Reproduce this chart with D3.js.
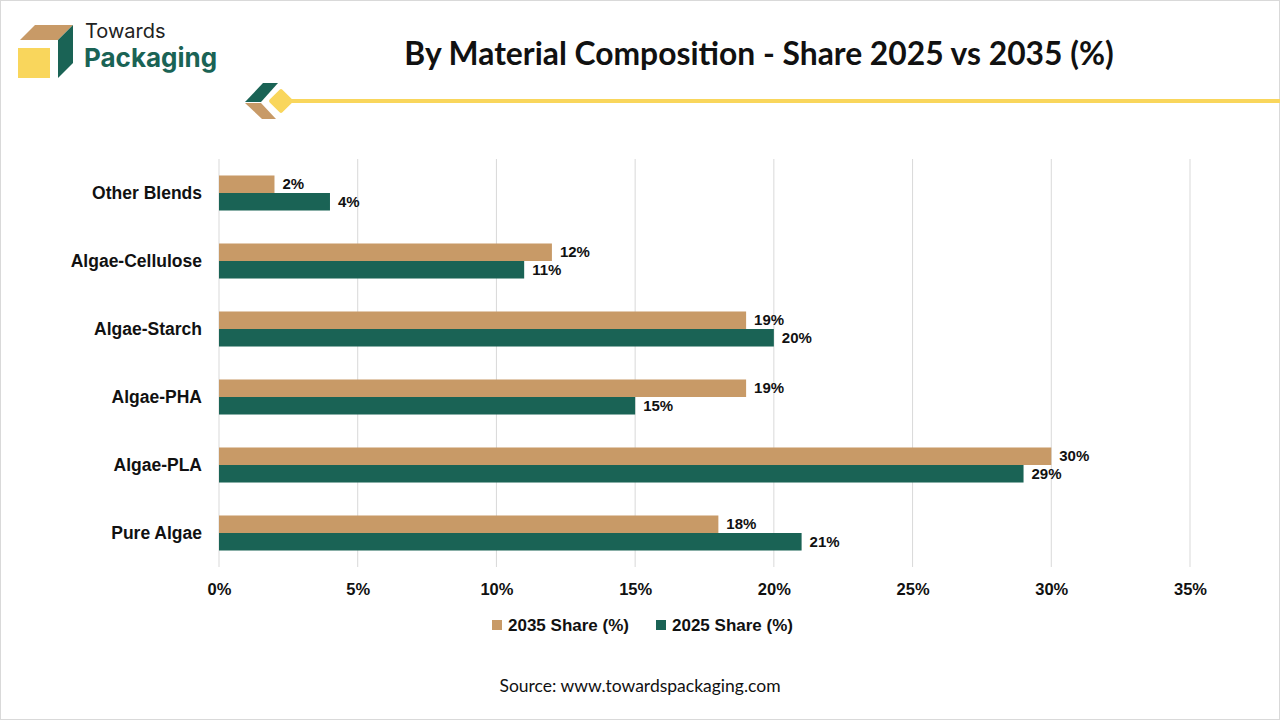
<!DOCTYPE html>
<html>
<head>
<meta charset="utf-8">
<script src="https://cdn.jsdelivr.net/npm/d3@7"></script>
<style>
  body { margin: 0; background: #fff; }
  svg { display: block; }
</style>
</head>
<body>
<svg id="chart" width="1280" height="720"></svg>
<script>
// chart data
var categories = ["Other Blends", "Algae-Cellulose", "Algae-Starch", "Algae-PHA", "Algae-PLA", "Pure Algae"];
var share2035 = [2, 12, 19, 19, 30, 18];
var share2025 = [4, 11, 20, 15, 29, 21];
var seriesNames = ["2035 Share (%)", "2025 Share (%)"];
var xTicks = [0, 5, 10, 15, 20, 25, 30, 35];

var orange = "#C89A67", green = "#1A6355", yellow = "#F9D65C";

var svg = d3.select("#chart");

// outer border
svg.append("rect").attr("x", 0.5).attr("y", 0.5).attr("width", 1279).attr("height", 719)
  .attr("fill", "#fff").attr("stroke", "#d9d9d9");

// logo
var logo = svg.append("g");
logo.append("polygon").attr("points", "20,40 35,25 73,25 58,40").attr("fill", orange);
logo.append("polygon").attr("points", "58,40 73,25 73,63 58,78").attr("fill", green);
logo.append("rect").attr("x", 18).attr("y", 48).attr("width", 32).attr("height", 30).attr("fill", yellow);
logo.append("text").attr("x", 85).attr("y", 38).text("Towards")
  .attr("font-family", "Inter, sans-serif").attr("font-size", 20).attr("fill", "#222");
logo.append("text").attr("x", 84).attr("y", 67).text("Packaging")
  .attr("font-family", "Inter, sans-serif").attr("font-weight", 700).attr("font-size", 26).attr("fill", green);

// title
svg.append("text").attr("x", 759).attr("y", 65).attr("text-anchor", "middle")
  .attr("font-family", "Lato, sans-serif").attr("font-weight", 700).attr("font-size", 31.8)
  .attr("fill", "#111").text("By Material Composition - Share 2025 vs 2035 (%)");

// header ornament
svg.append("rect").attr("x", 288).attr("y", 99).attr("width", 992).attr("height", 4).attr("fill", yellow);
svg.append("polygon").attr("points", "245,102 263,83 278,83 261,102").attr("fill", green);
svg.append("polygon").attr("points", "245,103 261,103 276,119 262,119").attr("fill", orange);
svg.append("rect").attr("x", -9).attr("y", -9).attr("width", 18).attr("height", 18).attr("rx", 2)
  .attr("fill", yellow).attr("transform", "translate(281,101) rotate(45)");

// plot area
var plotLeft = 219, plotRight = 1190, plotTop = 159, plotBottom = 567;
var x = d3.scaleLinear().domain([0, 35]).range([plotLeft, plotRight]);
var y = d3.scaleBand().domain(categories).range([plotTop, plotBottom]).paddingInner(0.485).paddingOuter(0.2425);
var sub = d3.scaleBand().domain(seriesNames).range([0, y.bandwidth()]);

var grid = svg.append("g");
grid.selectAll("line").data(xTicks).join("line")
  .attr("x1", d => x(d)).attr("x2", d => x(d))
  .attr("y1", plotTop).attr("y2", plotBottom)
  .attr("stroke", "#d9d9d9").attr("stroke-width", 1);

var xAxis = svg.append("g").attr("transform", "translate(0," + plotBottom + ")")
  .call(d3.axisBottom(x).tickValues(xTicks).tickFormat(d => d + "%").tickSize(0).tickPadding(16));
xAxis.select(".domain").remove();
xAxis.selectAll("text").attr("font-family", "Liberation Sans, Arial, sans-serif")
  .attr("font-weight", 700).attr("font-size", 16.5).attr("fill", "#111");

var yAxis = svg.append("g").attr("transform", "translate(" + plotLeft + ",0)")
  .call(d3.axisLeft(y).tickSize(0).tickPadding(17));
yAxis.select(".domain").remove();
yAxis.selectAll("text").attr("font-family", "Liberation Sans, Arial, sans-serif")
  .attr("font-weight", 700).attr("font-size", 17.5).attr("fill", "#111");

var series = [
  { name: seriesNames[0], values: share2035, color: orange },
  { name: seriesNames[1], values: share2025, color: green }
];

series.forEach(function (s) {
  var g = svg.append("g");
  g.selectAll("rect").data(categories).join("rect")
    .attr("x", x(0))
    .attr("y", (c) => y(c) + sub(s.name))
    .attr("width", (c, i) => x(s.values[i]) - x(0))
    .attr("height", sub.bandwidth())
    .attr("fill", s.color);
  g.selectAll("text").data(categories).join("text")
    .attr("x", (c, i) => x(s.values[i]) + 8)
    .attr("y", (c) => y(c) + sub(s.name) + sub.bandwidth() / 2 + 5)
    .attr("font-family", "Liberation Sans, Arial, sans-serif")
    .attr("font-weight", 700).attr("font-size", 15).attr("fill", "#111")
    .text((c, i) => s.values[i] + "%");
});

// legend
var legendX = [492, 656];
var legend = svg.append("g");
series.forEach(function (s, i) {
  legend.append("rect").attr("x", legendX[i]).attr("y", 620).attr("width", 10).attr("height", 10).attr("fill", s.color);
  legend.append("text").attr("x", legendX[i] + 16).attr("y", 631)
    .attr("font-family", "Liberation Sans, Arial, sans-serif")
    .attr("font-weight", 700).attr("font-size", 17).attr("fill", "#111").text(s.name);
});

// source
svg.append("text").attr("x", 640).attr("y", 692).attr("text-anchor", "middle")
  .attr("font-family", "Lato, sans-serif").attr("font-size", 17.5).attr("fill", "#111")
  .text("Source: www.towardspackaging.com");
</script>
</body>
</html>
